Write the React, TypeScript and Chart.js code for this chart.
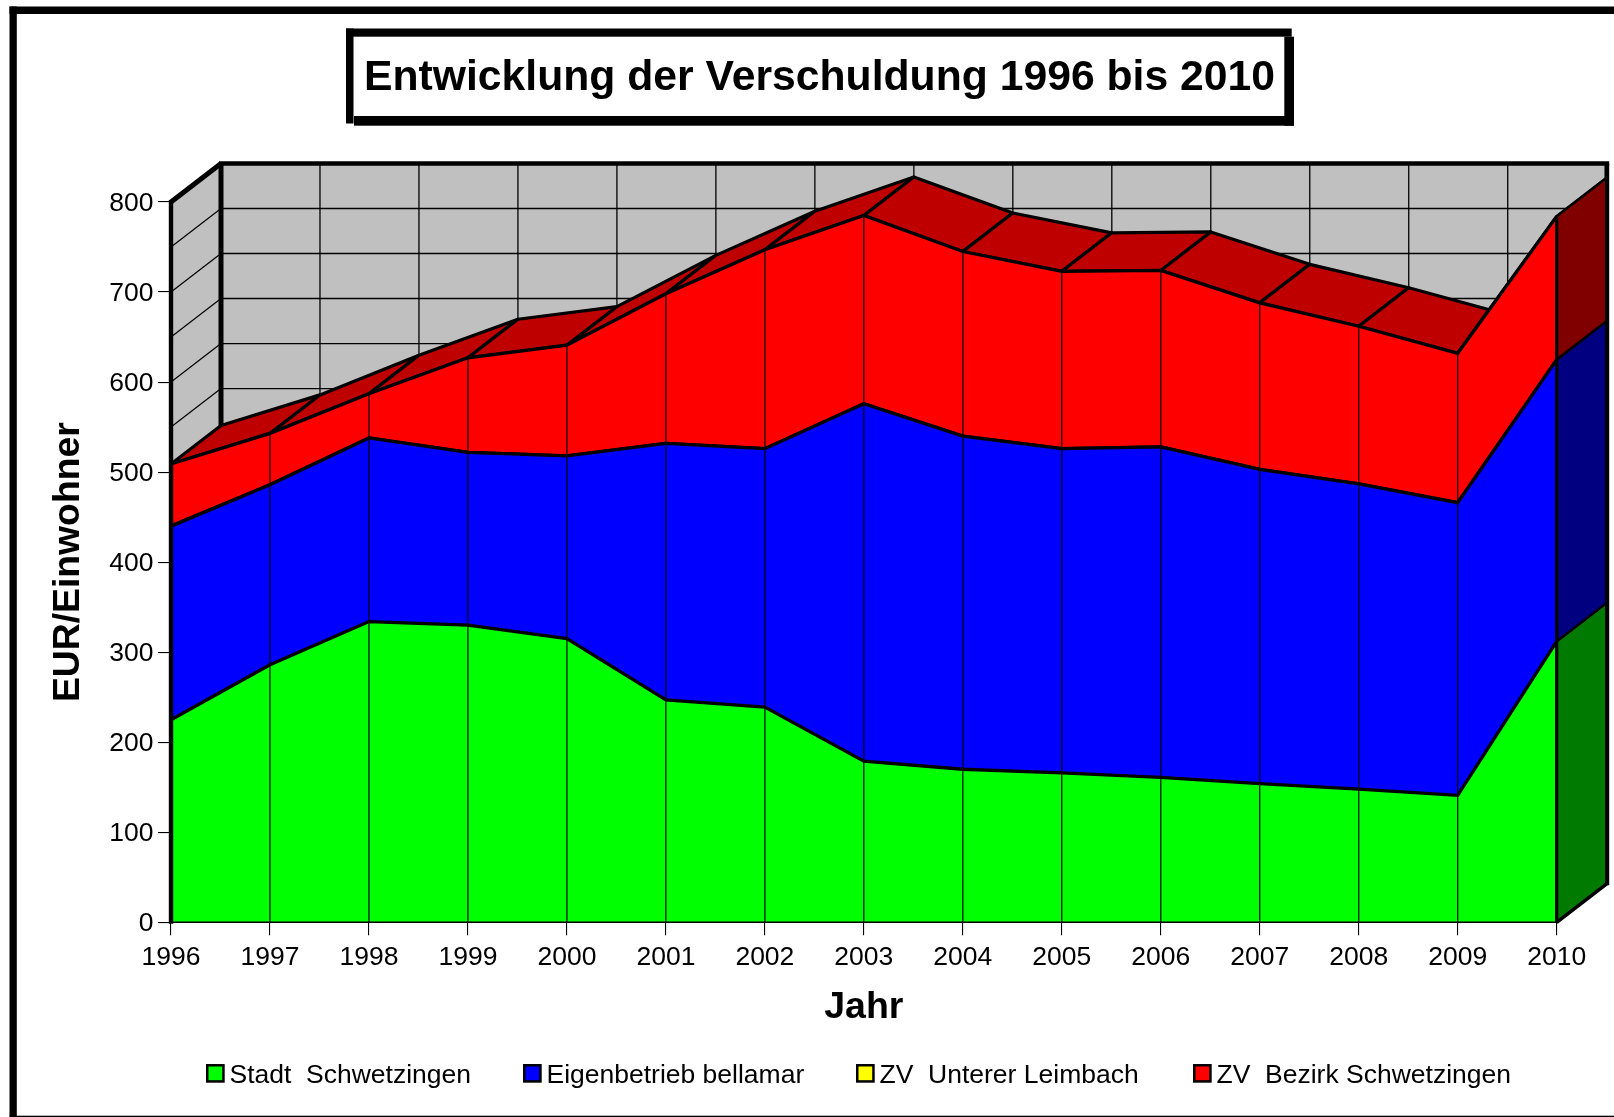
import React, { useEffect, useRef } from "react";
import { Chart, registerables } from "chart.js";

Chart.register(...registerables);

const YEARS = ["1996","1997","1998","1999","2000","2001","2002","2003","2004","2005","2006","2007","2008","2009","2010"];
const STADT = [225, 286, 334, 330, 315, 247, 239, 179, 170, 166, 161, 154, 148, 141, 312];
const BELLAMAR = [215, 200, 204, 192, 203, 285, 287, 397, 370, 360, 367, 349, 339, 325, 313];
const LEIMBACH = [0, 0, 0, 0, 0, 0, 0, 0, 0, 0, 0, 0, 0, 0, 0];
const BEZIRK = [69, 57, 49, 105, 123, 166, 221, 209, 205, 197, 196, 185, 175, 166, 159];
const SERIES_NAMES = ["Stadt  Schwetzingen", "Eigenbetrieb bellamar", "ZV  Unterer Leimbach", "ZV  Bezirk Schwetzingen"];
const SERIES_COLORS = ["#00FF00", "#0000FF", "#FFFF00", "#FF0000"];
const SIDE_COLORS = ["#007A00", "#000080", "#808000", "#800000"];
const TOP_COLOR = "#BE0000";
const WALL_COLOR = "#C0C0C0";
const TITLE = "Entwicklung der Verschuldung 1996 bis 2010";
const Y_LABEL = "EUR/Einwohner";
const X_LABEL = "Jahr";
const Y_GRID_VALUES = [0, 50, 100, 150, 200, 250, 300, 350, 400, 450, 500, 550, 600, 650, 700, 750, 800];
const LEGEND_BOX_X = [207.25, 524.25, 857.25, 1194.25];

const W = 1614;
const H = 1117;
const DX = 50;
const DY = -38.5;
const FONT = '"Liberation Sans", Arial, sans-serif';

const poly = (ctx: CanvasRenderingContext2D, pts: number[][]) => {
  ctx.beginPath();
  pts.forEach((p, i) => (i ? ctx.lineTo(p[0], p[1]) : ctx.moveTo(p[0], p[1])));
  ctx.closePath();
};
const seg = (ctx: CanvasRenderingContext2D, x0: number, y0: number, x1: number, y1: number, w: number) => {
  ctx.lineWidth = w;
  ctx.beginPath();
  ctx.moveTo(x0, y0);
  ctx.lineTo(x1, y1);
  ctx.stroke();
};

const frame3d = {
  id: "frame3d",
  beforeDraw(chart: any) {
    const ctx = chart.ctx as CanvasRenderingContext2D;
    ctx.save();
    ctx.fillStyle = "#fff";
    ctx.fillRect(0, 0, W, H);
    ctx.fillStyle = "#000";
    ctx.fillRect(9.5, 6.5, W, 7.5);
    ctx.fillRect(9.5, 6.5, 7.3, H);
    ctx.fillRect(9.5, 1115.7, W, 2);
    // title box
    ctx.fillRect(346, 28.5, 7.5, 95);
    ctx.fillRect(346, 28.5, 945.7, 8.2);
    ctx.fillRect(354, 116, 940, 9.7);
    ctx.fillRect(1284.3, 36.7, 9.7, 89);
    ctx.fillStyle = "#000";
    ctx.font = `bold 42.7px ${FONT}`;
    ctx.textAlign = "left";
    ctx.textBaseline = "alphabetic";
    ctx.fillText(TITLE, 364, 90);
    // legend
    ctx.font = `26.5px ${FONT}`;
    SERIES_NAMES.forEach((name, i) => {
      const x = LEGEND_BOX_X[i];
      ctx.fillStyle = SERIES_COLORS[i];
      ctx.fillRect(x, 1065.25, 16.2, 16.2);
      ctx.strokeStyle = "#000";
      ctx.lineWidth = 2.5;
      ctx.strokeRect(x, 1065.25, 16.2, 16.2);
      ctx.fillStyle = "#000";
      ctx.fillText(name, x + 22.2, 1082.5);
    });
    ctx.restore();
  },
  beforeDatasetsDraw(chart: any) {
    const ctx = chart.ctx as CanvasRenderingContext2D;
    const xs = chart.scales.x;
    const ys = chart.scales.y;
    const x0 = xs.getPixelForValue(0);
    const x1 = xs.getPixelForValue(YEARS.length - 1);
    const top = ys.getPixelForValue(800);
    const bot = ys.getPixelForValue(0);
    ctx.save();
    ctx.lineJoin = "round";
    ctx.lineCap = "butt";
    ctx.fillStyle = WALL_COLOR;
    poly(ctx, [[x0, bot], [x0, top], [x0 + DX, top + DY], [x1 + DX, top + DY], [x1 + DX, bot + DY], [x0 + DX, bot + DY]]);
    ctx.fill();
    ctx.strokeStyle = "#000";
    Y_GRID_VALUES.forEach((v) => {
      const y = ys.getPixelForValue(v);
      seg(ctx, x0, y, x0 + DX, y + DY, 1.2);
      seg(ctx, x0 + DX, y + DY, x1 + DX, y + DY, 1.4);
    });
    YEARS.forEach((_, i) => {
      const x = xs.getPixelForValue(i) + DX;
      seg(ctx, x, top + DY, x, bot + DY, 1.3);
    });
    // wall borders
    seg(ctx, x0 + DX, top + DY, x0 + DX, bot + DY, 5);
    seg(ctx, x0, top, x0 + DX, top + DY, 5);
    seg(ctx, x0 + DX - 2, top + DY, x1 + DX + 2.5, top + DY, 4.5);
    seg(ctx, x1 + DX, top + DY, x1 + DX, bot + DY, 4.5);
    // top surface of the stack
    const pts = chart.getDatasetMeta(SERIES_NAMES.length - 1).data;
    for (let i = 0; i < pts.length - 1; i++) {
      const a = pts[i];
      const b = pts[i + 1];
      poly(ctx, [[a.x, a.y], [b.x, b.y], [b.x + DX, b.y + DY], [a.x + DX, a.y + DY]]);
      ctx.fillStyle = TOP_COLOR;
      ctx.fill();
      ctx.lineWidth = 3.2;
      ctx.stroke();
    }
    ctx.restore();
  },
  afterDatasetsDraw(chart: any) {
    const ctx = chart.ctx as CanvasRenderingContext2D;
    const xs = chart.scales.x;
    const ys = chart.scales.y;
    const x0 = xs.getPixelForValue(0);
    const x1 = xs.getPixelForValue(YEARS.length - 1);
    const top = ys.getPixelForValue(800);
    const bot = ys.getPixelForValue(0);
    ctx.save();
    ctx.strokeStyle = "#000";
    ctx.lineJoin = "round";
    const n = SERIES_NAMES.length;
    const last = YEARS.length - 1;
    // right side faces
    let lowY = bot;
    for (let d = 0; d < n; d++) {
      const hiY = chart.getDatasetMeta(d).data[last].y;
      if (Math.abs(hiY - lowY) > 0.01) {
        poly(ctx, [[x1, lowY], [x1, hiY], [x1 + DX, hiY + DY], [x1 + DX, lowY + DY]]);
        ctx.fillStyle = SIDE_COLORS[d];
        ctx.fill();
        ctx.lineWidth = 2.4;
        ctx.stroke();
      }
      lowY = hiY;
    }
    // front vertical lines
    const tops = chart.getDatasetMeta(n - 1).data;
    for (let i = 1; i < last; i++) {
      seg(ctx, tops[i].x, tops[i].y, tops[i].x, bot, 1.2);
    }
    seg(ctx, x0, bot, x1, bot, 1.6);
    // heavier edges
    seg(ctx, x0, top - 2, x0, bot + 1.5, 4.4);
    seg(ctx, x1, tops[last].y, x1, bot, 3.2);
    seg(ctx, x1, bot, x1 + DX, bot + DY, 3.4);
    seg(ctx, x1 + DX + 0.5, top + DY, x1 + DX + 0.5, bot + DY + 1.5, 4);
    ctx.restore();
  },
};

export default function App() {
  const ref = useRef<HTMLCanvasElement>(null);
  useEffect(() => {
    const values = [STADT, BELLAMAR, LEIMBACH, BEZIRK];
    const chart = new Chart(ref.current!, {
      type: "line",
      data: {
        labels: YEARS,
        datasets: SERIES_NAMES.map((name, i) => ({
          label: name,
          data: values[i],
          backgroundColor: SERIES_COLORS[i],
          borderColor: "#000",
          borderWidth: 3.3,
          pointRadius: 0,
          tension: 0,
          fill: i === 0 ? "origin" : "-1",
          clip: false,
        })),
      },
      options: {
        animation: false,
        responsive: false,
        devicePixelRatio: 1,
        layout: { padding: { left: 0, top: 202, right: 57.3, bottom: 0 } },
        plugins: { legend: { display: false }, title: { display: false }, tooltip: { enabled: false } },
        scales: {
          x: {
            type: "category",
            offset: false,
            stacked: true,
            afterFit: (s: any) => { s.height = 194.7; },
            grid: { drawOnChartArea: false, drawTicks: true, tickLength: 13, color: "#000", lineWidth: 1.1 },
            border: { display: false },
            ticks: {
              color: "#000", font: { family: FONT, size: 26.5 }, padding: 6,
              maxRotation: 0, minRotation: 0, autoSkip: false,
            },
            title: {
              display: true, text: X_LABEL, color: "#000",
              font: { family: FONT, size: 37.5, weight: "bold" },
              padding: { top: 0, bottom: 87 },
            },
          },
          y: {
            type: "linear",
            stacked: true,
            min: 0,
            max: 800,
            afterFit: (s: any) => { s.width = 171; },
            grid: { drawOnChartArea: false, drawTicks: true, tickLength: 13, color: "#000", lineWidth: 1.1 },
            border: { display: false },
            ticks: { stepSize: 100, color: "#000", font: { family: FONT, size: 26.5 }, padding: 4.5, labelOffset: 1.5 },
            title: {
              display: true, text: Y_LABEL, color: "#000",
              font: { family: FONT, size: 37.3, weight: "bold" },
              padding: { top: 46, bottom: 0 },
            },
          },
        },
      },
      plugins: [frame3d],
    } as any);
    return () => chart.destroy();
  }, []);
  return (
    <canvas
      ref={ref}
      width={W}
      height={H}
      style={{ position: "absolute", left: 0, top: 0, width: W, height: H, display: "block" }}
    />
  );
}
